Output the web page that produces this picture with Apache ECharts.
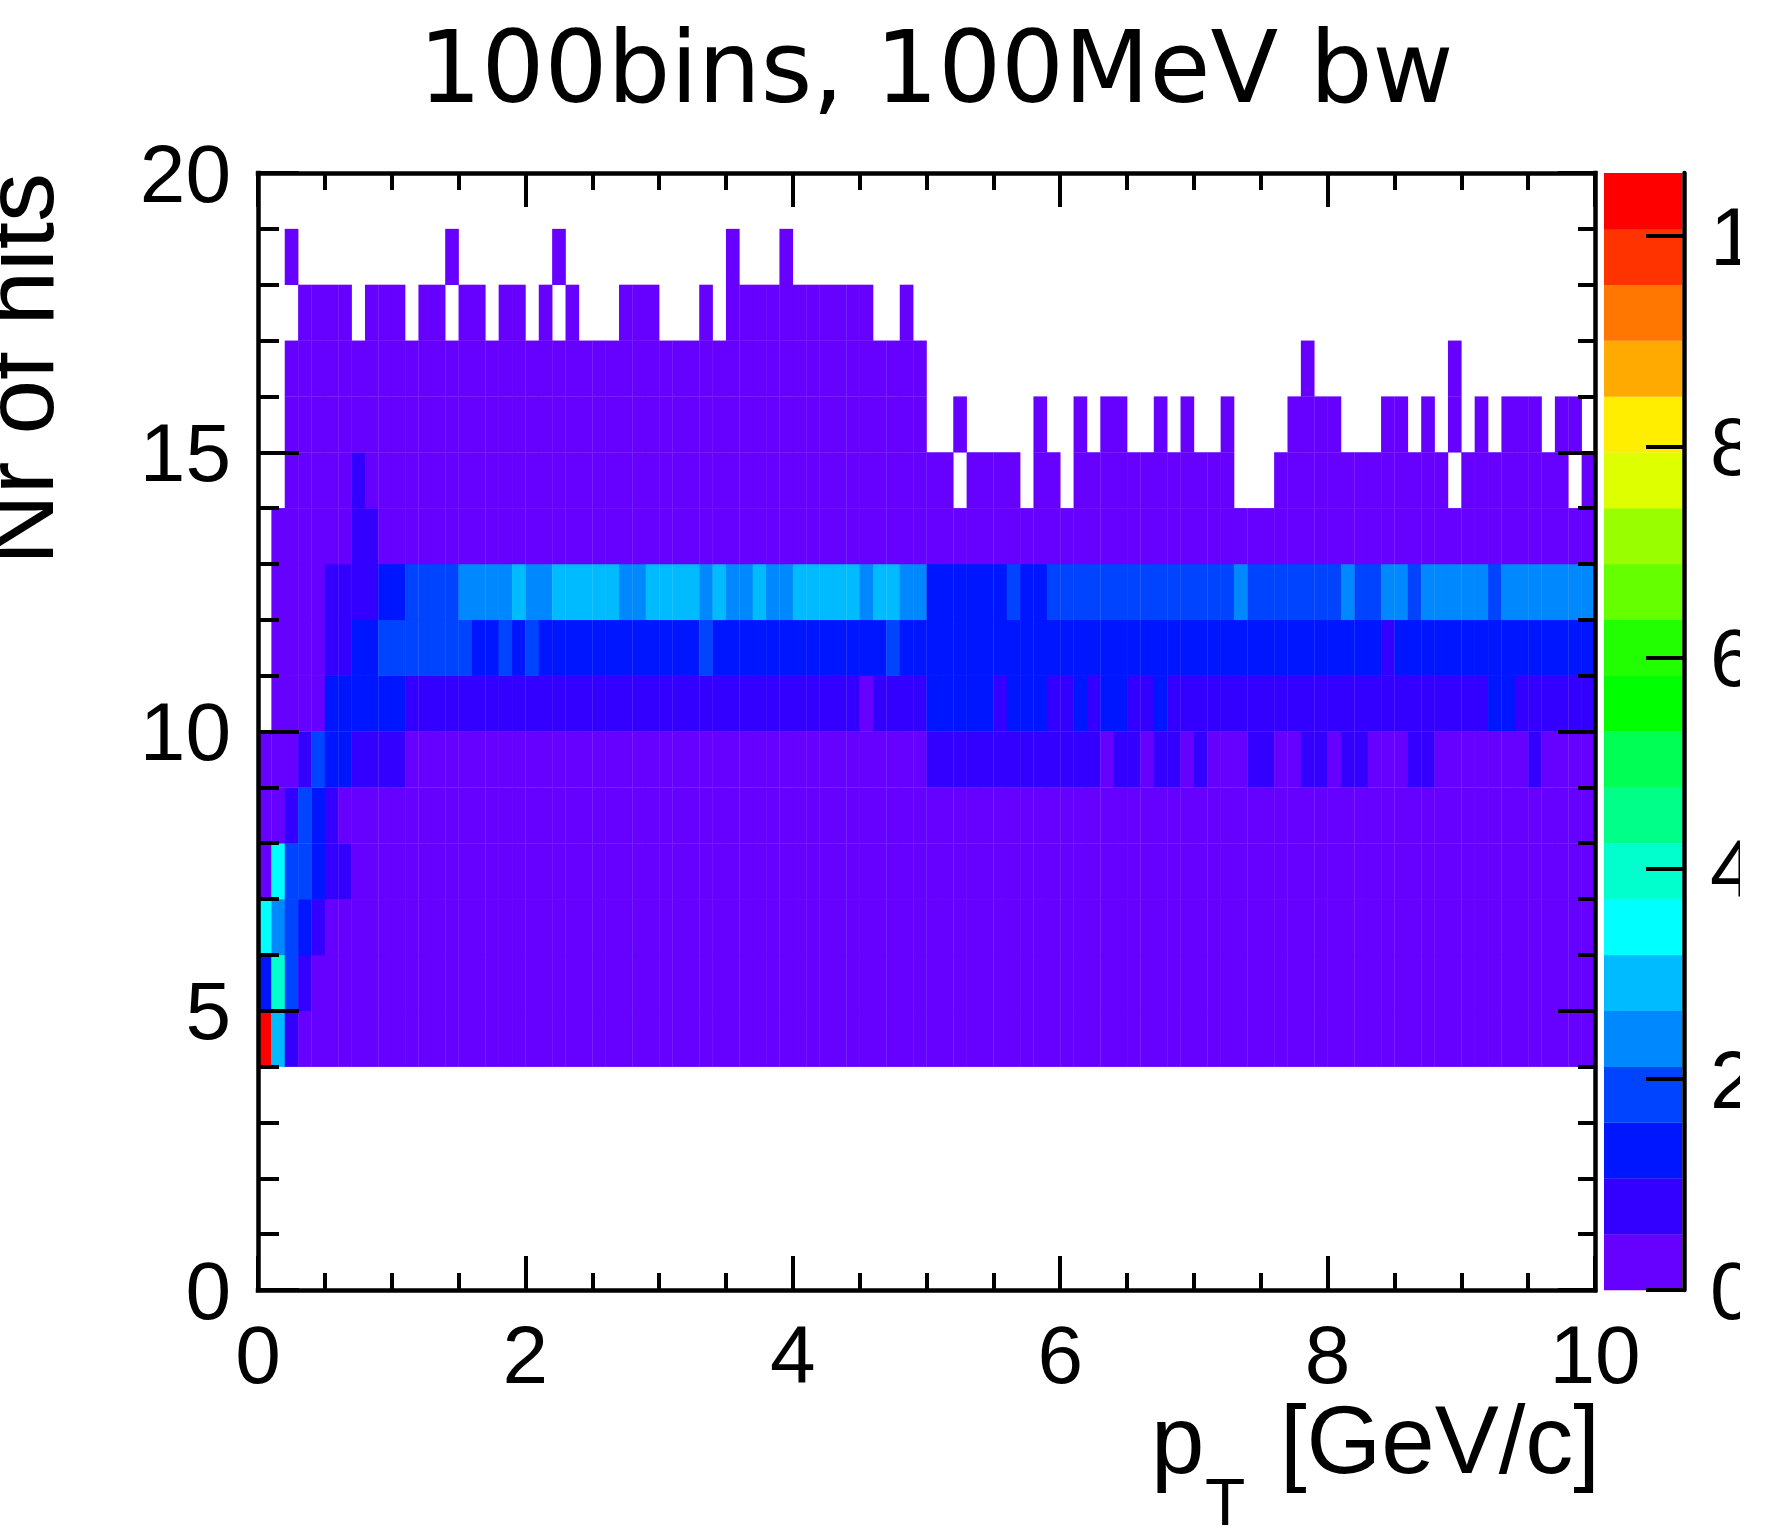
<!DOCTYPE html>
<html>
<head>
<meta charset="utf-8">
<script src="https://cdn.jsdelivr.net/npm/echarts@6/dist/echarts.min.js"></script>
<style>
html,body{margin:0;padding:0;background:#ffffff;}
#chart{width:1766px;height:1528px;}
</style>
</head>
<body>
<div id="chart"></div>
<script>
// ---------------- binning / scales ----------------
const chartTitle = '100bins, 100MeV bw';
const pTBinWidth = 0.1;          // 100 bins of 100 MeV between 0 and 10 GeV/c
const hitsBinWidth = 1;          // Nr of hits bins of width 1
const xTickValues = [0, 2, 4, 6, 8, 10];
const yTickValues = [0, 5, 10, 15, 20];
const zTickValues = [0, 2, 4, 6, 8, 10];
const zMax = 10.6;               // top of the colour scale
// 20-step rainbow palette (bottom -> top of the colour bar)
const paletteColors = [
  '#6600ff', '#3300ff', '#0016ff', '#0044ff', '#0088ff',
  '#00bbff', '#00ffff', '#00ffcc', '#00ff88', '#00ff55',
  '#00ff00', '#22ff00', '#66ff00', '#99ff00', '#ddff00',
  '#ffee00', '#ffaa00', '#ff7700', '#ff3300', '#ff0000'
];

// ---------------- cell contents ----------------
// one array per "Nr of hits" bin, 100 pT bins each (0 = empty bin)
const hitsRow04 = [
10.4,2.9,0.8,0.3,0.3,0.3,0.3,0.3,0.3,0.3,
0.3,0.3,0.3,0.3,0.3,0.3,0.3,0.3,0.3,0.3,
0.3,0.3,0.3,0.3,0.3,0.3,0.3,0.3,0.3,0.3,
0.3,0.3,0.3,0.3,0.3,0.3,0.3,0.3,0.3,0.3,
0.3,0.3,0.3,0.3,0.3,0.3,0.3,0.3,0.3,0.3,
0.3,0.3,0.3,0.3,0.3,0.3,0.3,0.3,0.3,0.3,
0.3,0.3,0.3,0.3,0.3,0.3,0.3,0.3,0.3,0.3,
0.3,0.3,0.3,0.3,0.3,0.3,0.3,0.3,0.3,0.3,
0.3,0.3,0.3,0.3,0.3,0.3,0.3,0.3,0.3,0.3,
0.3,0.3,0.3,0.3,0.3,0.3,0.3,0.3,0.3,0.3];
const hitsRow05 = [
1.3,4.0,1.8,0.8,0.3,0.3,0.3,0.3,0.3,0.3,
0.3,0.3,0.3,0.3,0.3,0.3,0.3,0.3,0.3,0.3,
0.3,0.3,0.3,0.3,0.3,0.3,0.3,0.3,0.3,0.3,
0.3,0.3,0.3,0.3,0.3,0.3,0.3,0.3,0.3,0.3,
0.3,0.3,0.3,0.3,0.3,0.3,0.3,0.3,0.3,0.3,
0.3,0.3,0.3,0.3,0.3,0.3,0.3,0.3,0.3,0.3,
0.3,0.3,0.3,0.3,0.3,0.3,0.3,0.3,0.3,0.3,
0.3,0.3,0.3,0.3,0.3,0.3,0.3,0.3,0.3,0.3,
0.3,0.3,0.3,0.3,0.3,0.3,0.3,0.3,0.3,0.3,
0.3,0.3,0.3,0.3,0.3,0.3,0.3,0.3,0.3,0.3];
const hitsRow06 = [
3.4,2.4,1.8,1.3,0.8,0.3,0.3,0.3,0.3,0.3,
0.3,0.3,0.3,0.3,0.3,0.3,0.3,0.3,0.3,0.3,
0.3,0.3,0.3,0.3,0.3,0.3,0.3,0.3,0.3,0.3,
0.3,0.3,0.3,0.3,0.3,0.3,0.3,0.3,0.3,0.3,
0.3,0.3,0.3,0.3,0.3,0.3,0.3,0.3,0.3,0.3,
0.3,0.3,0.3,0.3,0.3,0.3,0.3,0.3,0.3,0.3,
0.3,0.3,0.3,0.3,0.3,0.3,0.3,0.3,0.3,0.3,
0.3,0.3,0.3,0.3,0.3,0.3,0.3,0.3,0.3,0.3,
0.3,0.3,0.3,0.3,0.3,0.3,0.3,0.3,0.3,0.3,
0.3,0.3,0.3,0.3,0.3,0.3,0.3,0.3,0.3,0.3];
const hitsRow07 = [
0.3,3.4,1.8,1.8,1.3,0.8,0.8,0.3,0.3,0.3,
0.3,0.3,0.3,0.3,0.3,0.3,0.3,0.3,0.3,0.3,
0.3,0.3,0.3,0.3,0.3,0.3,0.3,0.3,0.3,0.3,
0.3,0.3,0.3,0.3,0.3,0.3,0.3,0.3,0.3,0.3,
0.3,0.3,0.3,0.3,0.3,0.3,0.3,0.3,0.3,0.3,
0.3,0.3,0.3,0.3,0.3,0.3,0.3,0.3,0.3,0.3,
0.3,0.3,0.3,0.3,0.3,0.3,0.3,0.3,0.3,0.3,
0.3,0.3,0.3,0.3,0.3,0.3,0.3,0.3,0.3,0.3,
0.3,0.3,0.3,0.3,0.3,0.3,0.3,0.3,0.3,0.3,
0.3,0.3,0.3,0.3,0.3,0.3,0.3,0.3,0.3,0.3];
const hitsRow08 = [
0.3,0.3,0.8,1.8,1.3,0.8,0.3,0.3,0.3,0.3,
0.3,0.3,0.3,0.3,0.3,0.3,0.3,0.3,0.3,0.3,
0.3,0.3,0.3,0.3,0.3,0.3,0.3,0.3,0.3,0.3,
0.3,0.3,0.3,0.3,0.3,0.3,0.3,0.3,0.3,0.3,
0.3,0.3,0.3,0.3,0.3,0.3,0.3,0.3,0.3,0.3,
0.3,0.3,0.3,0.3,0.3,0.3,0.3,0.3,0.3,0.3,
0.3,0.3,0.3,0.3,0.3,0.3,0.3,0.3,0.3,0.3,
0.3,0.3,0.3,0.3,0.3,0.3,0.3,0.3,0.3,0.3,
0.3,0.3,0.3,0.3,0.3,0.3,0.3,0.3,0.3,0.3,
0.3,0.3,0.3,0.3,0.3,0.3,0.3,0.3,0.3,0.3];
const hitsRow09 = [
0.3,0.3,0.3,0.8,1.8,1.3,1.3,0.8,0.8,0.8,
0.8,0.3,0.3,0.3,0.3,0.3,0.3,0.3,0.3,0.3,
0.3,0.3,0.3,0.3,0.3,0.3,0.3,0.3,0.3,0.3,
0.3,0.3,0.3,0.3,0.3,0.3,0.3,0.3,0.3,0.3,
0.3,0.3,0.3,0.3,0.3,0.3,0.3,0.3,0.3,0.3,
0.8,0.8,0.8,0.8,0.8,0.8,0.8,0.8,0.8,0.8,
0.8,0.8,0.8,0.3,0.8,0.8,0.3,0.8,0.8,0.3,
0.8,0.3,0.3,0.3,0.8,0.8,0.3,0.3,0.8,0.8,
0.3,0.8,0.8,0.3,0.3,0.3,0.8,0.8,0.3,0.3,
0.3,0.3,0.3,0.3,0.3,0.8,0.3,0.3,0.3,0.3];
const hitsRow10 = [
0,0.3,0.3,0.3,0.3,1.3,1.3,1.3,1.3,1.3,
1.3,0.8,0.8,0.8,0.8,0.8,0.8,0.8,0.8,0.8,
0.8,0.8,0.8,0.8,0.8,0.8,0.8,0.8,0.8,0.8,
0.8,0.8,0.8,0.8,0.8,0.8,0.8,0.8,0.8,0.8,
0.8,0.8,0.8,0.8,0.8,0.3,0.8,0.8,0.8,0.8,
1.3,1.3,1.3,1.3,1.3,0.8,1.3,1.3,1.3,0.8,
0.8,1.3,0.8,1.3,1.3,0.8,0.8,1.3,0.8,0.8,
0.8,0.8,0.8,0.8,0.8,0.8,0.8,0.8,0.8,0.8,
0.8,0.8,0.8,0.8,0.8,0.8,0.8,0.8,0.8,0.8,
0.8,0.8,1.3,1.3,0.8,0.8,0.8,0.8,0.8,0.8];
const hitsRow11 = [
0,0.3,0.3,0.3,0.3,0.8,0.8,1.3,1.3,1.8,
1.8,1.8,1.8,1.8,1.8,1.8,1.3,1.3,1.8,1.3,
1.8,1.3,1.3,1.3,1.3,1.3,1.3,1.3,1.3,1.3,
1.3,1.3,1.3,1.8,1.3,1.3,1.3,1.3,1.3,1.3,
1.3,1.3,1.3,1.3,1.3,1.3,1.3,1.8,1.3,1.3,
1.3,1.3,1.3,1.3,1.3,1.3,1.3,1.3,1.3,1.3,
1.3,1.3,1.3,1.3,1.3,1.3,1.3,1.3,1.3,1.3,
1.3,1.3,1.3,1.3,1.3,1.3,1.3,1.3,1.3,1.3,
1.3,1.3,1.3,1.3,0.8,1.3,1.3,1.3,1.3,1.3,
1.3,1.3,1.3,1.3,1.3,1.3,1.3,1.3,1.3,1.3];
const hitsRow12 = [
0,0.3,0.3,0.3,0.3,0.8,0.8,0.8,0.8,1.3,
1.3,1.8,1.8,1.8,1.8,2.4,2.4,2.4,2.4,2.9,
2.4,2.4,2.9,2.9,2.9,2.9,2.9,2.4,2.4,2.9,
2.9,2.9,2.9,2.4,2.9,2.4,2.4,2.9,2.4,2.4,
2.9,2.9,2.9,2.9,2.9,2.4,2.9,2.9,2.4,2.4,
1.3,1.3,1.3,1.3,1.3,1.3,1.8,1.3,1.3,1.8,
1.8,1.8,1.8,1.8,1.8,1.8,1.8,1.8,1.8,1.8,
1.8,1.8,1.8,2.4,1.8,1.8,1.8,1.8,1.8,1.8,
1.8,2.4,1.8,1.8,2.4,2.4,1.8,2.4,2.4,2.4,
2.4,2.4,1.8,2.4,2.4,2.4,2.4,2.4,2.4,2.4];
const hitsRow13 = [
0,0.3,0.3,0.3,0.3,0.3,0.3,0.8,0.8,0.3,
0.3,0.3,0.3,0.3,0.3,0.3,0.3,0.3,0.3,0.3,
0.3,0.3,0.3,0.3,0.3,0.3,0.3,0.3,0.3,0.3,
0.3,0.3,0.3,0.3,0.3,0.3,0.3,0.3,0.3,0.3,
0.3,0.3,0.3,0.3,0.3,0.3,0.3,0.3,0.3,0.3,
0.3,0.3,0.3,0.3,0.3,0.3,0.3,0.3,0.3,0.3,
0.3,0.3,0.3,0.3,0.3,0.3,0.3,0.3,0.3,0.3,
0.3,0.3,0.3,0.3,0.3,0.3,0.3,0.3,0.3,0.3,
0.3,0.3,0.3,0.3,0.3,0.3,0.3,0.3,0.3,0.3,
0.3,0.3,0.3,0.3,0.3,0.3,0.3,0.3,0.3,0.3];
const hitsRow14 = [
0,0,0.3,0.3,0.3,0.3,0.3,0.8,0.3,0.3,
0.3,0.3,0.3,0.3,0.3,0.3,0.3,0.3,0.3,0.3,
0.3,0.3,0.3,0.3,0.3,0.3,0.3,0.3,0.3,0.3,
0.3,0.3,0.3,0.3,0.3,0.3,0.3,0.3,0.3,0.3,
0.3,0.3,0.3,0.3,0.3,0.3,0.3,0.3,0.3,0.3,
0.3,0.3,0,0.3,0.3,0.3,0.3,0,0.3,0.3,
0,0.3,0.3,0.3,0.3,0.3,0.3,0.3,0.3,0.3,
0.3,0.3,0.3,0,0,0,0.3,0.3,0.3,0.3,
0.3,0.3,0.3,0.3,0.3,0.3,0.3,0.3,0.3,0,
0.3,0.3,0.3,0.3,0.3,0.3,0.3,0.3,0,0.3];
const hitsRow15 = [
0,0,0.3,0.3,0.3,0.3,0.3,0.3,0.3,0.3,
0.3,0.3,0.3,0.3,0.3,0.3,0.3,0.3,0.3,0.3,
0.3,0.3,0.3,0.3,0.3,0.3,0.3,0.3,0.3,0.3,
0.3,0.3,0.3,0.3,0.3,0.3,0.3,0.3,0.3,0.3,
0.3,0.3,0.3,0.3,0.3,0.3,0.3,0.3,0.3,0.3,
0,0,0.3,0,0,0,0,0,0.3,0,
0,0.3,0,0.3,0.3,0,0,0.3,0,0.3,
0,0,0.3,0,0,0,0,0.3,0.3,0.3,
0.3,0,0,0,0.3,0.3,0,0.3,0,0.3,
0,0.3,0,0.3,0.3,0.3,0,0.3,0.3,0];
const hitsRow16 = [
0,0,0.3,0.3,0.3,0.3,0.3,0.3,0.3,0.3,
0.3,0.3,0.3,0.3,0.3,0.3,0.3,0.3,0.3,0.3,
0.3,0.3,0.3,0.3,0.3,0.3,0.3,0.3,0.3,0.3,
0.3,0.3,0.3,0.3,0.3,0.3,0.3,0.3,0.3,0.3,
0.3,0.3,0.3,0.3,0.3,0.3,0.3,0.3,0.3,0.3,
0,0,0,0,0,0,0,0,0,0,
0,0,0,0,0,0,0,0,0,0,
0,0,0,0,0,0,0,0,0.3,0,
0,0,0,0,0,0,0,0,0,0.3,
0,0,0,0,0,0,0,0,0,0];
const hitsRow17 = [
0,0,0,0.3,0.3,0.3,0.3,0,0.3,0.3,
0.3,0,0.3,0.3,0,0.3,0.3,0,0.3,0.3,
0,0.3,0,0.3,0,0,0,0.3,0.3,0.3,
0,0,0,0.3,0,0.3,0.3,0.3,0.3,0.3,
0.3,0.3,0.3,0.3,0.3,0.3,0,0,0.3,0,
0,0,0,0,0,0,0,0,0,0,
0,0,0,0,0,0,0,0,0,0,
0,0,0,0,0,0,0,0,0,0,
0,0,0,0,0,0,0,0,0,0,
0,0,0,0,0,0,0,0,0,0];
const hitsRow18 = [
0,0,0.3,0,0,0,0,0,0,0,
0,0,0,0,0.3,0,0,0,0,0,
0,0,0.3,0,0,0,0,0,0,0,
0,0,0,0,0,0.3,0,0,0,0.3,
0,0,0,0,0,0,0,0,0,0,
0,0,0,0,0,0,0,0,0,0,
0,0,0,0,0,0,0,0,0,0,
0,0,0,0,0,0,0,0,0,0,
0,0,0,0,0,0,0,0,0,0,
0,0,0,0,0,0,0,0,0,0];

const hitsRows = [
  [4, hitsRow04], [5, hitsRow05], [6, hitsRow06], [7, hitsRow07], [8, hitsRow08],
  [9, hitsRow09], [10, hitsRow10], [11, hitsRow11], [12, hitsRow12], [13, hitsRow13],
  [14, hitsRow14], [15, hitsRow15], [16, hitsRow16], [17, hitsRow17], [18, hitsRow18]
];

// ---------------- build series data ----------------
const cellData = [];
hitsRows.forEach(function (entry) {
  const nHits = entry[0];
  entry[1].forEach(function (v, i) {
    if (v > 0) cellData.push([Math.round(i * pTBinWidth * 1000) / 1000, nHits, v]);
  });
});
const zStep = zMax / paletteColors.length;
const pieces = paletteColors.map(function (c, i) {
  if (i === paletteColors.length - 1) return { gte: i * zStep, lte: zMax, color: c };
  return { gte: i * zStep, lt: (i + 1) * zStep, color: c };
});
const bandData = paletteColors.map(function (c, i) { return [i * zStep, (i + 1) * zStep, i]; });

// ---------------- styling helpers ----------------
const FONT = 'Liberation Sans';
const BLACK = '#000000';
function frameLine() { return { show: true, onZero: false, lineStyle: { color: BLACK, width: 4.5, cap: 'square' } }; }

const chart = echarts.init(document.getElementById('chart'), null, { renderer: 'svg' });

const option = {
  animation: false,
  backgroundColor: '#ffffff',
  title: {
    text: chartTitle, left: 936, top: 18, textAlign: 'center', padding: 0,
    textStyle: { fontFamily: 'DejaVu Sans', fontSize: 99, fontWeight: 'normal', color: BLACK }
  },
  grid: [
    { left: 258, top: 173, width: 1337, height: 1117, containLabel: false, outerBoundsMode: 'none' },
    { left: 1604, top: 173, width: 80, height: 1117, containLabel: false, outerBoundsMode: 'none' }
  ],
  xAxis: [
    { gridIndex: 0, type: 'value', min: 0, max: 10, interval: 2, position: 'bottom', z: 10,
      axisLine: frameLine(),
      axisTick: { show: true, inside: true, length: 34, lineStyle: { color: BLACK, width: 4 } },
      minorTick: { show: true, splitNumber: 4, length: 17, lineStyle: { color: BLACK, width: 4 } },
      axisLabel: { show: true, margin: 23, fontSize: 82, fontFamily: FONT, color: BLACK },
      splitLine: { show: false }, minorSplitLine: { show: false } },
    { gridIndex: 0, type: 'value', min: 0, max: 10, interval: 2, position: 'top', z: 10,
      axisLine: frameLine(),
      axisTick: { show: true, inside: true, length: 34, lineStyle: { color: BLACK, width: 4 } },
      minorTick: { show: true, splitNumber: 4, length: 17, lineStyle: { color: BLACK, width: 4 } },
      axisLabel: { show: false }, splitLine: { show: false } },
    { gridIndex: 1, type: 'value', min: 0, max: 1, show: false, splitLine: { show: false } }
  ],
  yAxis: [
    { gridIndex: 0, type: 'value', min: 0, max: 20, interval: 5, position: 'left', z: 10,
      axisLine: frameLine(),
      axisTick: { show: true, inside: true, length: 41, lineStyle: { color: BLACK, width: 4 } },
      minorTick: { show: true, splitNumber: 5, length: 21, lineStyle: { color: BLACK, width: 4 } },
      axisLabel: { show: true, margin: 27, fontSize: 82, fontFamily: FONT, color: BLACK },
      splitLine: { show: false } },
    { gridIndex: 0, type: 'value', min: 0, max: 20, interval: 5, position: 'right', z: 10,
      axisLine: frameLine(),
      axisTick: { show: true, inside: true, length: 37, lineStyle: { color: BLACK, width: 4 } },
      minorTick: { show: true, splitNumber: 5, length: 17, lineStyle: { color: BLACK, width: 4 } },
      axisLabel: { show: false }, splitLine: { show: false } },
    { gridIndex: 1, type: 'value', min: 0, max: zMax, interval: 2, position: 'right', z: 10,
      axisLine: { show: true, onZero: false, lineStyle: { color: BLACK, width: 4.5 } },
      axisTick: { show: true, inside: true, length: 38, customValues: zTickValues, lineStyle: { color: BLACK, width: 4 } },
      axisLabel: { show: true, margin: 26, fontSize: 82, fontFamily: FONT, color: BLACK, customValues: zTickValues },
      splitLine: { show: false } }
  ],
  visualMap: {
    type: 'piecewise', show: false, seriesIndex: 0, dimension: 2, pieces: pieces
  },
  series: [
    {
      type: 'custom', name: 'hits vs pT', xAxisIndex: 0, yAxisIndex: 0, data: cellData,
      encode: { x: 0, y: 1 },
      renderItem: function (params, api) {
        const x = api.value(0), y = api.value(1);
        const p0 = api.coord([x, y + hitsBinWidth]);
        const p1 = api.coord([x + pTBinWidth, y]);
        return { type: 'rect',
          shape: { x: p0[0], y: p0[1], width: p1[0] - p0[0] + 0.3, height: p1[1] - p0[1] + 0.3 },
          style: { fill: api.visual('color') } };
      }
    },
    {
      type: 'custom', name: 'palette', xAxisIndex: 2, yAxisIndex: 2, data: bandData,
      renderItem: function (params, api) {
        const lo = api.value(0), hi = api.value(1), idx = api.value(2);
        const p0 = api.coord([0, hi]);
        const p1 = api.coord([1, lo]);
        return { type: 'rect',
          shape: { x: p0[0], y: p0[1], width: p1[0] - p0[0] - 2, height: p1[1] - p0[1] + 0.3 },
          style: { fill: paletteColors[idx] } };
      }
    }
  ],
  graphic: [
    { type: 'text', x: 19, y: 173, rotation: Math.PI / 2, z: 20,
      style: { text: 'Nr of hits', fontSize: 98, fontFamily: FONT, fill: BLACK, align: 'right', verticalAlign: 'middle' } },
    { type: 'text', x: 1151, y: 1439, z: 20,
      style: { text: 'p', fontSize: 96, fontFamily: FONT, fill: BLACK, align: 'left', verticalAlign: 'middle' } },
    { type: 'text', x: 1205, y: 1502, z: 20,
      style: { text: 'T', fontSize: 66, fontFamily: FONT, fill: BLACK, align: 'left', verticalAlign: 'middle' } },
    { type: 'text', x: 1600, y: 1439, z: 20,
      style: { text: '[GeV/c]', fontSize: 96, fontFamily: FONT, fill: BLACK, align: 'right', verticalAlign: 'middle' } },
    // the original canvas ends at x = 1740; the strip to its right is blank
    { type: 'rect', z: 100, silent: true,
      shape: { x: 1740, y: 0, width: 26, height: 1528 }, style: { fill: '#ffffff' } }
  ]
};
chart.setOption(option);
</script>
</body>
</html>
